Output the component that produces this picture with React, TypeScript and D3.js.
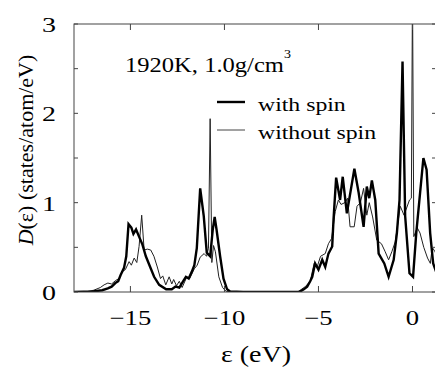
import React, { useEffect, useRef } from "react";
import * as d3 from "d3";

// [energy (eV), D(e) states/atom/eV]
const withSpin: [number, number][] = [
  [-18, 0], [-17, 0.005], [-16.5, 0.02], [-16.2, 0.04], [-16.0, 0.06], [-15.8, 0.1],
  [-15.65, 0.12], [-15.52, 0.19], [-15.34, 0.27], [-15.22, 0.4], [-15.1, 0.76],
  [-14.95, 0.72], [-14.84, 0.65], [-14.7, 0.7], [-14.54, 0.62], [-14.36, 0.53],
  [-14.18, 0.4], [-13.95, 0.28], [-13.74, 0.17], [-13.47, 0.08], [-13.1, 0.03],
  [-12.8, 0.03], [-12.6, 0.06], [-12.4, 0.05], [-12.2, 0.12], [-12.05, 0.17],
  [-11.9, 0.15], [-11.75, 0.22], [-11.6, 0.3], [-11.47, 0.49], [-11.29, 1.16],
  [-11.1, 0.85], [-10.94, 0.44], [-10.76, 0.4], [-10.62, 0.7], [-10.52, 0.84],
  [-10.42, 0.7], [-10.23, 0.4], [-10.05, 0.15], [-9.86, 0.03], [-9.7, 0.005],
  [-9, 0], [-7, 0], [-6, 0.003], [-5.78, 0.03], [-5.6, 0.06], [-5.44, 0.12],
  [-5.33, 0.17], [-5.18, 0.32], [-5.0, 0.25], [-4.8, 0.36], [-4.64, 0.28],
  [-4.47, 0.43], [-4.27, 0.51], [-4.2, 0.81], [-4.06, 1.28], [-3.85, 1.03],
  [-3.71, 1.29], [-3.49, 0.88], [-3.09, 1.38], [-2.87, 1.12], [-2.6, 0.73],
  [-2.43, 1.18], [-2.3, 1.05], [-2.16, 1.25], [-1.98, 1.03], [-1.8, 0.43],
  [-1.5, 0.32], [-1.27, 0.17], [-1.0, 0.36], [-0.83, 0.66], [-0.69, 1.03],
  [-0.53, 2.58], [-0.39, 0.85], [-0.16, 0.21], [0.03, 0.17], [0.2, 0.66],
  [0.4, 1.1], [0.58, 1.5], [0.75, 1.37], [0.94, 0.66], [1.1, 0.32], [1.3, 0.2]
];

const withoutSpin: [number, number][] = [
  [-18, 0], [-17.3, 0.005], [-16.95, 0.02], [-16.6, 0.05], [-16.4, 0.08], [-16.2, 0.1],
  [-16.0, 0.09], [-15.78, 0.13], [-15.6, 0.15], [-15.43, 0.23], [-15.27, 0.25],
  [-15.07, 0.34], [-14.95, 0.3], [-14.8, 0.38], [-14.66, 0.33], [-14.54, 0.51],
  [-14.4, 0.86], [-14.27, 0.47], [-14.1, 0.48], [-13.92, 0.47], [-13.75, 0.4],
  [-13.57, 0.28], [-13.4, 0.15], [-13.28, 0.18], [-13.12, 0.08], [-12.94, 0.17],
  [-12.8, 0.09], [-12.7, 0.14], [-12.55, 0.07], [-12.4, 0.12], [-12.25, 0.05],
  [-12.0, 0.17], [-11.85, 0.15], [-11.6, 0.26], [-11.45, 0.3], [-11.29, 0.39],
  [-11.08, 0.43], [-10.95, 0.4], [-10.85, 0.49], [-10.76, 1.94], [-10.67, 0.33],
  [-10.58, 0.52], [-10.48, 0.45], [-10.3, 0.17], [-10.1, 0.05], [-9.9, 0.005],
  [-9, 0], [-7, 0], [-6.1, 0.003], [-5.97, 0.02], [-5.7, 0.06], [-5.44, 0.12],
  [-5.23, 0.32], [-5.07, 0.28], [-4.89, 0.4], [-4.64, 0.43], [-4.47, 0.54],
  [-4.3, 0.6], [-4.11, 0.9], [-3.94, 1.03], [-3.8, 0.98], [-3.6, 1.0],
  [-3.45, 1.05], [-3.32, 0.73], [-3.1, 0.73], [-2.95, 0.96], [-2.77, 1.0],
  [-2.6, 1.16], [-2.43, 0.86], [-2.3, 1.0], [-2.12, 0.84], [-1.9, 0.58],
  [-1.65, 0.54], [-1.45, 0.45], [-1.27, 0.36], [-1.1, 0.45], [-0.92, 0.56],
  [-0.65, 0.96], [-0.45, 0.86], [-0.16, 1.03], [-0.06, 1.05], [0.0, 3.4],
  [0.07, 0.62], [0.25, 0.72], [0.4, 0.66], [0.6, 0.5], [0.8, 0.38],
  [0.95, 0.32], [1.05, 0.5], [1.2, 0.45], [1.3, 0.4]
];

const xTicks = [-15, -10, -5, 0];
const yTicks = [0, 1, 2, 3];
const yMinorTicks = [0.5, 1.5, 2.5];

const FONT = "'Liberation Serif', 'Times New Roman', serif";
const SX = 1.27; // glyphs in the figure are stretched sideways

export default function App() {
  const ref = useRef<SVGSVGElement | null>(null);

  useEffect(() => {
    const root = d3.select(ref.current);
    root.selectAll("*").remove();

    const left = 74, right = 436, top = 24, bottom = 292;
    const x = d3.scaleLinear().domain([-18, 1.25]).range([left, right]);
    const y = d3.scaleLinear().domain([0, 3]).range([bottom, top]);

    root.append("defs").append("clipPath").attr("id", "plotClip")
      .append("rect").attr("x", left).attr("y", top)
      .attr("width", right - left).attr("height", bottom - top);

    const stretched = (px: number, py: number, size: number, anchor: string, sx = SX) =>
      root.append("g")
        .attr("transform", `translate(${px},${py}) scale(${sx},1)`)
        .append("text")
        .attr("font-family", FONT)
        .attr("font-size", size)
        .attr("text-anchor", anchor)
        .attr("fill", "#000");

    const line = d3.line<[number, number]>()
      .x(d => x(d[0]))
      .y(d => y(d[1]));

    const plot = root.append("g").attr("clip-path", "url(#plotClip)");
    plot.append("path").datum(withoutSpin)
      .attr("d", line).attr("fill", "none")
      .attr("stroke", "#222").attr("stroke-width", 1)
      .attr("stroke-linejoin", "miter");
    plot.append("path").datum(withSpin)
      .attr("d", line).attr("fill", "none")
      .attr("stroke", "#000").attr("stroke-width", 2.4)
      .attr("stroke-linejoin", "miter");

    // frame
    root.append("rect")
      .attr("x", left).attr("y", top)
      .attr("width", right - left).attr("height", bottom - top)
      .attr("fill", "none").attr("stroke", "#444").attr("stroke-width", 1);

    // ticks, pointing inward
    const tk = root.append("g").attr("stroke", "#444").attr("stroke-width", 1);
    xTicks.forEach(t => {
      tk.append("line").attr("x1", x(t)).attr("x2", x(t)).attr("y1", bottom).attr("y2", bottom - 6);
      tk.append("line").attr("x1", x(t)).attr("x2", x(t)).attr("y1", top).attr("y2", top + 6);
    });
    [...yTicks, ...yMinorTicks].forEach(t => {
      tk.append("line").attr("x1", left).attr("x2", left + 4).attr("y1", y(t)).attr("y2", y(t));
      tk.append("line").attr("x1", right).attr("x2", right - 4).attr("y1", y(t)).attr("y2", y(t));
    });

    // tick labels
    xTicks.forEach(t => {
      stretched(x(t), 325, 21, "middle").text(t < 0 ? `\u2212${Math.abs(t)}` : `${t}`);
    });
    yTicks.forEach(t => {
      stretched(56, y(t) + 8, 22, "end").text(`${t}`);
    });

    // axis titles
    stretched(256, 362, 23, "middle", 1.22).text("\u03b5 (eV)");
    const yt = root.append("text")
      .attr("transform", `translate(33,150) rotate(-90)`)
      .attr("font-family", FONT).attr("font-size", 22)
      .attr("text-anchor", "middle");
    yt.append("tspan").attr("font-style", "italic").text("D");
    yt.append("tspan").text("(\u03b5) (states/atom/eV)");

    // annotation
    const ann = stretched(125, 72, 21, "start", 1.17);
    ann.append("tspan").text("1920K, 1.0g/cm");
    ann.append("tspan").attr("font-size", 12).attr("dy", -14).text("3");

    // legend
    const legend = [
      { label: "with spin", w: 2.4, color: "#000", ly: 102 },
      { label: "without spin", w: 1, color: "#444", ly: 130 }
    ];
    legend.forEach(l => {
      root.append("line")
        .attr("x1", 217).attr("x2", 245).attr("y1", l.ly).attr("y2", l.ly)
        .attr("stroke", l.color).attr("stroke-width", l.w);
      stretched(258, l.ly + 9, 19, "start", 1.25).text(l.label);
    });
  }, []);

  return (
    <svg
      ref={ref}
      width={435}
      height={367}
      style={{ position: "absolute", left: 0, top: 0, background: "#fff" }}
    />
  );
}
